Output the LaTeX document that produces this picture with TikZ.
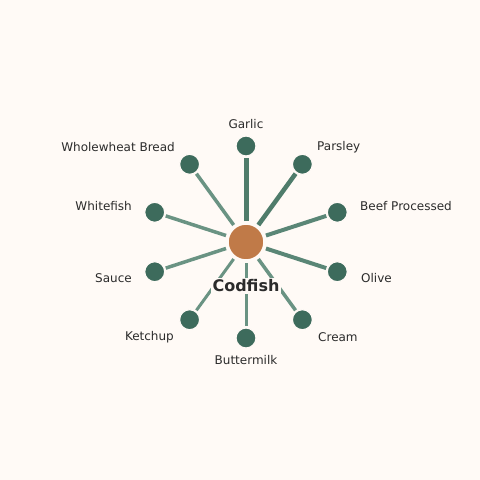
\documentclass[tikz,border=0pt]{standalone}
\usepackage{fontspec}
\setmainfont{DejaVu Sans}
\definecolor{pageBg}{HTML}{FFFAF6}
\definecolor{leafGreen}{HTML}{3D6B5C}
\definecolor{edgeDark}{HTML}{4F7C6B}
\definecolor{edgeMid}{HTML}{5A8676}
\definecolor{edgeLight}{HTML}{6A9383}
\definecolor{codOrange}{HTML}{C07A48}
\definecolor{textGrey}{HTML}{2B2B2B}
\begin{document}
\begin{tikzpicture}[x=1pt, y=-1pt,
	leaf/.style={circle, fill=leafGreen, draw=pageBg, line width=1.2pt, minimum size=20pt, inner sep=0pt},
	hub/.style={circle, fill=codOrange, draw=pageBg, line width=1.5pt, minimum size=36pt, inner sep=0pt, outer sep=2pt},
	leafLabel/.style={text=textGrey, font=\fontsize{12}{14}\selectfont, inner sep=0pt},
	spoke/.style={line cap=butt, shorten <=1pt, shorten >=1pt}]
\fill[pageBg] (0,0) rectangle (480,480);
\useasboundingbox (0,0) rectangle (480,480);

\node[hub](codfish) at (246,242){};

\node[leaf](garlic) at (246,146){};
\node[leaf](parsley) at (302.4,164.3){};
\node[leaf](beef) at (337.3,212.3){};
\node[leaf](olive) at (337.3,271.7){};
\node[leaf](cream) at (302.4,319.7){};
\node[leaf](buttermilk) at (246,338){};
\node[leaf](ketchup) at (189.6,319.7){};
\node[leaf](sauce) at (154.7,271.7){};
\node[leaf](whitefish) at (154.7,212.3){};
\node[leaf](bread) at (189.6,164.3){};

% spokes, thicker for the stronger pairings
\draw[spoke, edgeDark, line width=5pt] (codfish) -- (garlic);
\draw[spoke, edgeDark, line width=4.5pt] (codfish) -- (parsley);
\draw[spoke, edgeMid, line width=4pt] (codfish) -- (beef);
\draw[spoke, edgeMid, line width=4pt] (codfish) -- (olive);
\draw[spoke, edgeLight, line width=3.5pt] (codfish) -- (cream);
\draw[spoke, edgeLight, line width=3pt] (codfish) -- (buttermilk);
\draw[spoke, edgeLight, line width=3pt] (codfish) -- (ketchup);
\draw[spoke, edgeLight, line width=3.5pt] (codfish) -- (sauce);
\draw[spoke, edgeLight, line width=3.5pt] (codfish) -- (whitefish);
\draw[spoke, edgeLight, line width=3.5pt] (codfish) -- (bread);

\node[fill=pageBg, text=textGrey, font=\bfseries\fontsize{16}{18}\selectfont, inner sep=2pt](codfishLabel) at (246,286){Codfish};

\node[leafLabel](garlicLabel) at (246,124){Garlic};
\node[leafLabel, anchor=west](parsleyLabel) at (317,147){Parsley};
\node[leafLabel, anchor=west](beefLabel) at (360,206){Beef Processed};
\node[leafLabel, anchor=west](oliveLabel) at (361,278){Olive};
\node[leafLabel, anchor=west](creamLabel) at (318,337){Cream};
\node[leafLabel](buttermilkLabel) at (246,360){Buttermilk};
\node[leafLabel, anchor=east](ketchupLabel) at (174,337){Ketchup};
\node[leafLabel, anchor=east](sauceLabel) at (132,278){Sauce};
\node[leafLabel, anchor=east](whitefishLabel) at (132,206){Whitefish};
\node[leafLabel, anchor=east](breadLabel) at (175,147){Wholewheat Bread};
\end{tikzpicture}
\end{document}
